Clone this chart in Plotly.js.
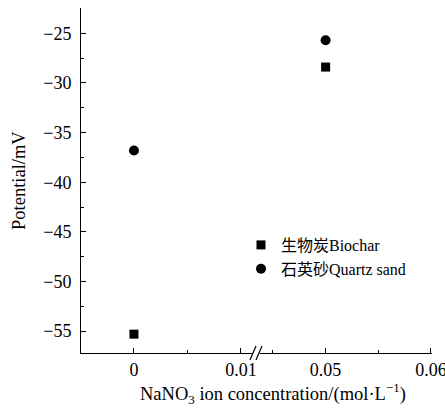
<!DOCTYPE html>
<html>
<head>
<meta charset="utf-8">
<script src="https://cdn.plot.ly/plotly-3.0.1.min.js"></script>
<style>
  html, body { margin: 0; padding: 0; background: #fff; }
  #chart { width: 445px; height: 408px; }
</style>
</head>
<body>
<div id="chart"></div>
<script>
// NaNO3 concentration (mol/L) and zeta potential (mV) of each medium
const concentrations = [0, 0.05];
const biochar = [-55.3, -28.4];
const quartzSand = [-36.8, -25.7];
const seriesNames = ['生物炭Biochar', '石英砂Quartz sand'];

// broken x axis: a low segment and a high segment
const lowTicks = [0, 0.01];
const lowTickText = ['0', '0.01'];
const highTicks = [0.05, 0.06];
const highTickText = ['0.05', '0.06'];
const lowMinor = [0.005];
const highMinor = [0.045, 0.055];
const yTicks = [-55, -50, -45, -40, -35, -30, -25];
const yTickText = ['\u221255', '\u221250', '\u221245', '\u221240', '\u221235', '\u221230', '\u221225'];
const yMinor = [-57.5, -52.5, -47.5, -42.5, -37.5, -32.5, -27.5, -22.5];

const breakAt = 0.03;
const SERIF = 'Liberation Serif';
const MIXED = "'Liberation Serif', 'Noto Sans CJK SC'";

const series = [
  { name: seriesNames[0], values: biochar, symbol: 'square', size: 9 },
  { name: seriesNames[1], values: quartzSand, symbol: 'circle', size: 10 }
];

const traces = [];
['x', 'x2'].forEach((xa, seg) => {
  series.forEach((s) => {
    const xs = [], ys = [];
    concentrations.forEach((c, k) => {
      if ((seg === 0) === (c < breakAt)) { xs.push(c); ys.push(s.values[k]); }
    });
    traces.push({
      type: 'scatter', mode: 'markers', x: xs, y: ys,
      xaxis: xa, yaxis: 'y',
      name: s.name, legendgroup: s.name, showlegend: seg === 0,
      marker: { symbol: s.symbol, size: s.size, color: '#000', line: { width: 0 } },
      cliponaxis: false, hoverinfo: 'x+y'
    });
  });
});

const plotW = 351, plotH = 345;   // inner plot size in px
const px = v => (v - 81) / plotW;  // px -> paper helpers
const py = v => (353 - v) / plotH;

const axisCommon = {
  showline: true, linecolor: '#000', linewidth: 1,
  showgrid: false, zeroline: false,
  ticks: 'inside', ticklen: 5, tickwidth: 1, tickcolor: '#000',
  tickmode: 'array',
  tickfont: { family: SERIF, size: 18, color: '#000' },
  ticklabeloverflow: 'allow',
  fixedrange: true
};

const layout = {
  width: 445, height: 408,
  margin: { l: 81, r: 13, t: 8, b: 55 },
  paper_bgcolor: '#fff', plot_bgcolor: '#fff',
  font: { family: SERIF, color: '#000', size: 18 },
  showlegend: true,
  legend: {
    x: px(241), y: py(228), xanchor: 'left', yanchor: 'top',
    bgcolor: 'rgba(0,0,0,0)', borderwidth: 0,
    font: { family: MIXED, size: 16, color: '#000' },
    traceorder: 'normal'
  },
  xaxis: Object.assign({}, axisCommon, {
    domain: [0, px(252)],
    range: [-0.00495, 0.01103],
    tickvals: lowTicks, ticktext: lowTickText,
    minor: { tickmode: 'array', tickvals: lowMinor, ticks: 'inside', ticklen: 3, tickcolor: '#000' },
    anchor: 'y'
  }),
  xaxis2: Object.assign({}, axisCommon, {
    domain: [px(260), 1],
    range: [0.04377, 0.0601],
    tickvals: highTicks, ticktext: highTickText,
    minor: { tickmode: 'array', tickvals: highMinor, ticks: 'inside', ticklen: 3, tickcolor: '#000' },
    anchor: 'y'
  }),
  yaxis: Object.assign({}, axisCommon, {
    range: [-57.2, -22.45],
    tickvals: yTicks, ticktext: yTickText,
    minor: { tickmode: 'array', tickvals: yMinor, ticks: 'inside', ticklen: 3, tickcolor: '#000' },
    ticklabelstandoff: 5,
    anchor: 'x'
  }),
  annotations: [
    {
      text: 'NaNO<sub>3</sub> ion concentration/(mol\u00b7L<sup>\u22121</sup>)',
      xref: 'paper', yref: 'paper', x: px(273), y: py(394),
      xanchor: 'center', yanchor: 'middle', showarrow: false,
      font: { family: SERIF, size: 18.5, color: '#000' }
    },
    {
      text: 'Potential/mV', textangle: -90,
      xref: 'paper', yref: 'paper', x: px(19), y: py(181),
      xanchor: 'center', yanchor: 'middle', showarrow: false,
      font: { family: SERIF, size: 18.5, color: '#000' }
    }
  ],
  shapes: [
    { type: 'line', xref: 'paper', yref: 'paper', x0: px(250), y0: py(360), x1: px(256), y1: py(346), line: { color: '#000', width: 1.2 } },
    { type: 'line', xref: 'paper', yref: 'paper', x0: px(256), y0: py(360), x1: px(262), y1: py(346), line: { color: '#000', width: 1.2 } }
  ]
};

Plotly.newPlot('chart', traces, layout, { displayModeBar: false, staticPlot: true });
</script>
</body>
</html>
